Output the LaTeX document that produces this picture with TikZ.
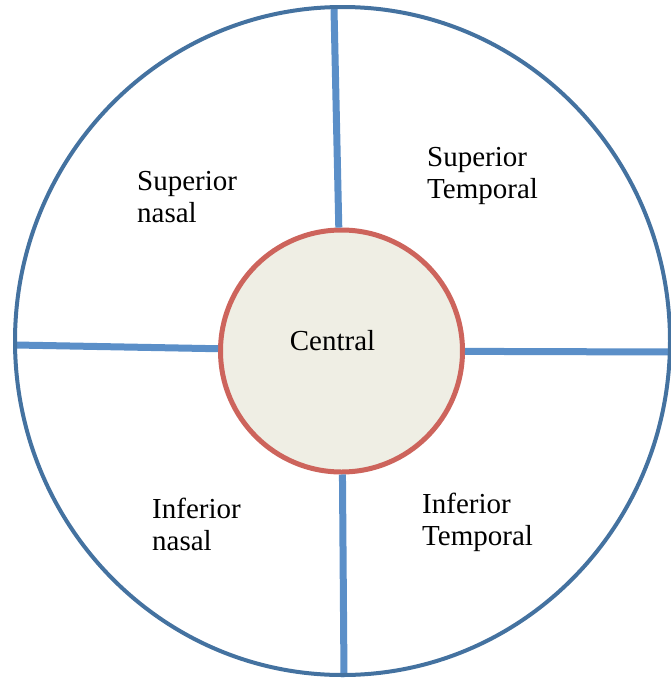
\documentclass[tikz,border=0pt]{standalone}
\usepackage{fontspec}
\setmainfont{Liberation Serif}
\definecolor{ringblue}{HTML}{4472A0}
\definecolor{spokeblue}{HTML}{5B8FC8}
\definecolor{centralred}{HTML}{CD645C}
\definecolor{centralfill}{HTML}{EFEEE4}
\tikzset{
  spoke/.style={spokeblue,line width=7pt},
  sector/.style={anchor=north west,inner sep=0pt,align=left,font=\fontsize{29}{32}\selectfont}
}
\begin{document}
\begin{tikzpicture}[x=1pt,y=-1pt]
\useasboundingbox (0,0) rectangle (671,681);

\node[circle,draw=centralred,fill=centralfill,line width=5pt,inner sep=0pt,minimum size=242pt] (central) at (341.5,351) {};
\node[anchor=base,inner sep=0pt,font=\fontsize{29}{32}\selectfont] (centraltext) at (332.5,350) {Central};

\coordinate (top) at (334,9);
\coordinate (left) at (16,345);
\coordinate (right) at (671,352);
\coordinate (bottom) at (344,677);

\draw[spoke] (central) -- (top);
\draw[spoke] (central) -- (left);
\draw[spoke] (central) -- (right);
\draw[spoke] (central) -- (bottom);

\draw[ringblue,line width=4pt] (342.5,341) ellipse (327.5 and 334);

\node[sector] (supnasal) at (137,171) {Superior\\nasal};
\node[sector] (suptemporal) at (427,147) {Superior\\Temporal};
\node[sector] (infnasal) at (152,498) {Inferior\\nasal};
\node[sector] (inftemporal) at (422,493) {Inferior\\Temporal};
\end{tikzpicture}
\end{document}
